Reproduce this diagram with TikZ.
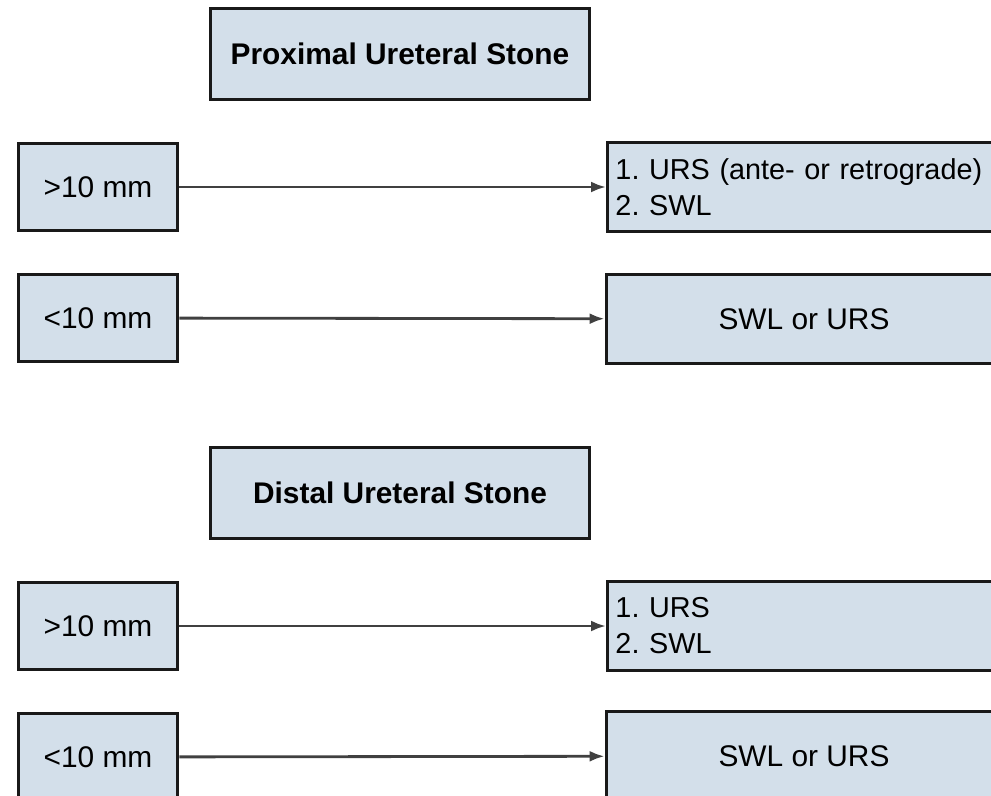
\documentclass[tikz,border=0pt]{standalone}
\usepackage{fontspec}
\setmainfont{Liberation Sans}
\usetikzlibrary{arrows.meta}
\definecolor{boxfill}{HTML}{D3DFEA}
\frenchspacing
\begin{document}
\begin{tikzpicture}[x=0.02cm,y=-0.02cm,
    box/.style={draw=black!90,line width=1.7pt,fill=boxfill,inner sep=0pt,font=\fontsize{17}{20.5}\selectfont},
    head/.style={box,minimum width=7.6cm,minimum height=1.82cm,font=\fontsize{17}{20.5}\selectfont\bfseries},
    size/.style={box,minimum width=3.2cm,minimum height=1.74cm},
    choice/.style={box,minimum width=7.92cm,minimum height=1.78cm},
    listbox/.style={box,anchor=west,text width=9cm,inner xsep=0.16cm,align=left,minimum height=1.78cm,font=\fontsize{16.4}{20.5}\selectfont},
    link/.style={draw=black!75,line width=1.6pt,-{Latex[length=0.3cm,width=0.22cm]}}]
    \clip (0,0) rectangle (991,795);
    \fill[white] (0,0) rectangle (991,795);
    \node[head] (prox) at (400,54) {Proximal Ureteral Stone};
    \node[size] (pbig) at (98,187) {>10 mm};
    \node[listbox] (pbigt) at (606,187) {1. URS (ante- or retrograde)\\2. SWL};
    \draw[link] (pbig) -- (pbigt);
    \node[size] (psmall) at (98,318) {<10 mm};
    \node[choice] (psmallt) at (804,319) {SWL or URS};
    \draw[link] (psmall) -- (psmallt);
    \node[head] (dist) at (400,493) {Distal Ureteral Stone};
    \node[size] (dbig) at (98,626) {>10 mm};
    \node[listbox] (dbigt) at (606,626) {1. URS\\2. SWL};
    \draw[link] (dbig) -- (dbigt);
    \node[size] (dsmall) at (98,757) {<10 mm};
    \node[choice] (dsmallt) at (804,756) {SWL or URS};
    \draw[link] (dsmall) -- (dsmallt);
\end{tikzpicture}
\end{document}
